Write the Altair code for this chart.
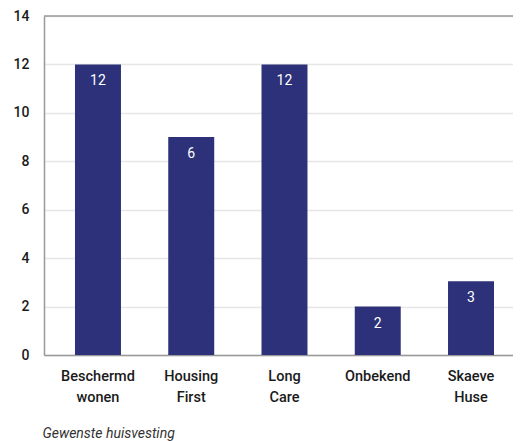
import altair as alt
import pandas as pd

categories = ["Beschermd wonen", "Housing First", "Long Care", "Onbekend", "Skaeve Huse"]
values = [12, 9, 12, 2, 3.05]
labels = ["12", "6", "12", "2", "3"]
y_ticks = [0, 2, 4, 6, 8, 10, 12, 14]
top_value = [14]

df = pd.DataFrame({"cat": categories, "value": values, "label": labels})
top_df = pd.DataFrame({"y": top_value})

FONT = "Roboto"
BAR = "#2c3179"
TXT = "#1a1a1a"

x_enc = alt.X(
    "cat:N",
    sort=categories,
    scale=alt.Scale(paddingInner=0.507, paddingOuter=0.268, align=0.62),
    axis=alt.Axis(
        title="Gewenste huisvesting",
        titleFont=FONT,
        titleFontStyle="italic",
        titleFontWeight="normal",
        titleFontSize=14,
        titleColor="#333333",
        titleAnchor="start",
        titleAlign="left",
        titleBaseline="alphabetic",
        titleX=-2,
        titleY=82,
        labelExpr="split(datum.label, ' ')",
        labelFont=FONT,
        labelFontSize=14.5,
        labelFontWeight=500,
        labelColor=TXT,
        labelLineHeight=21,
        labelPadding=14,
        labelAngle=0,
        ticks=False,
        domainColor="#999999",
        domainWidth=1.5,
        grid=False,
    ),
)

y_enc = alt.Y(
    "value:Q",
    scale=alt.Scale(domain=[0, 14], nice=False),
    axis=alt.Axis(
        title=None,
        values=y_ticks,
        labelFont=FONT,
        labelFontSize=14,
        labelFontWeight=500,
        labelColor=TXT,
        labelPadding=15,
        ticks=False,
        domainColor="#999999",
        domainWidth=1.5,
        gridColor="#e6e6e6",
        gridWidth=1.5,
    ),
)

bars = alt.Chart(df).mark_bar(color=BAR).encode(x=x_enc, y=y_enc)

text = alt.Chart(df).mark_text(
    color="white", font=FONT, fontSize=14, baseline="middle", dy=17
).encode(x=alt.X("cat:N", sort=categories), y="value:Q", text="label:N")

top_rule = alt.Chart(top_df).mark_rule(color="#999999", strokeWidth=1.5).encode(
    y="y:Q"
)

chart = (
    alt.layer(bars, text, top_rule)
    .properties(
        width=469,
        height=339,
        autosize=alt.AutoSizeParams(type="none"),
        padding={"left": 36, "top": 8, "right": 0, "bottom": 92},
    )
    .configure_view(stroke=None)
)

chart.save("out.html", embed_options={"renderer": "svg", "actions": False})
